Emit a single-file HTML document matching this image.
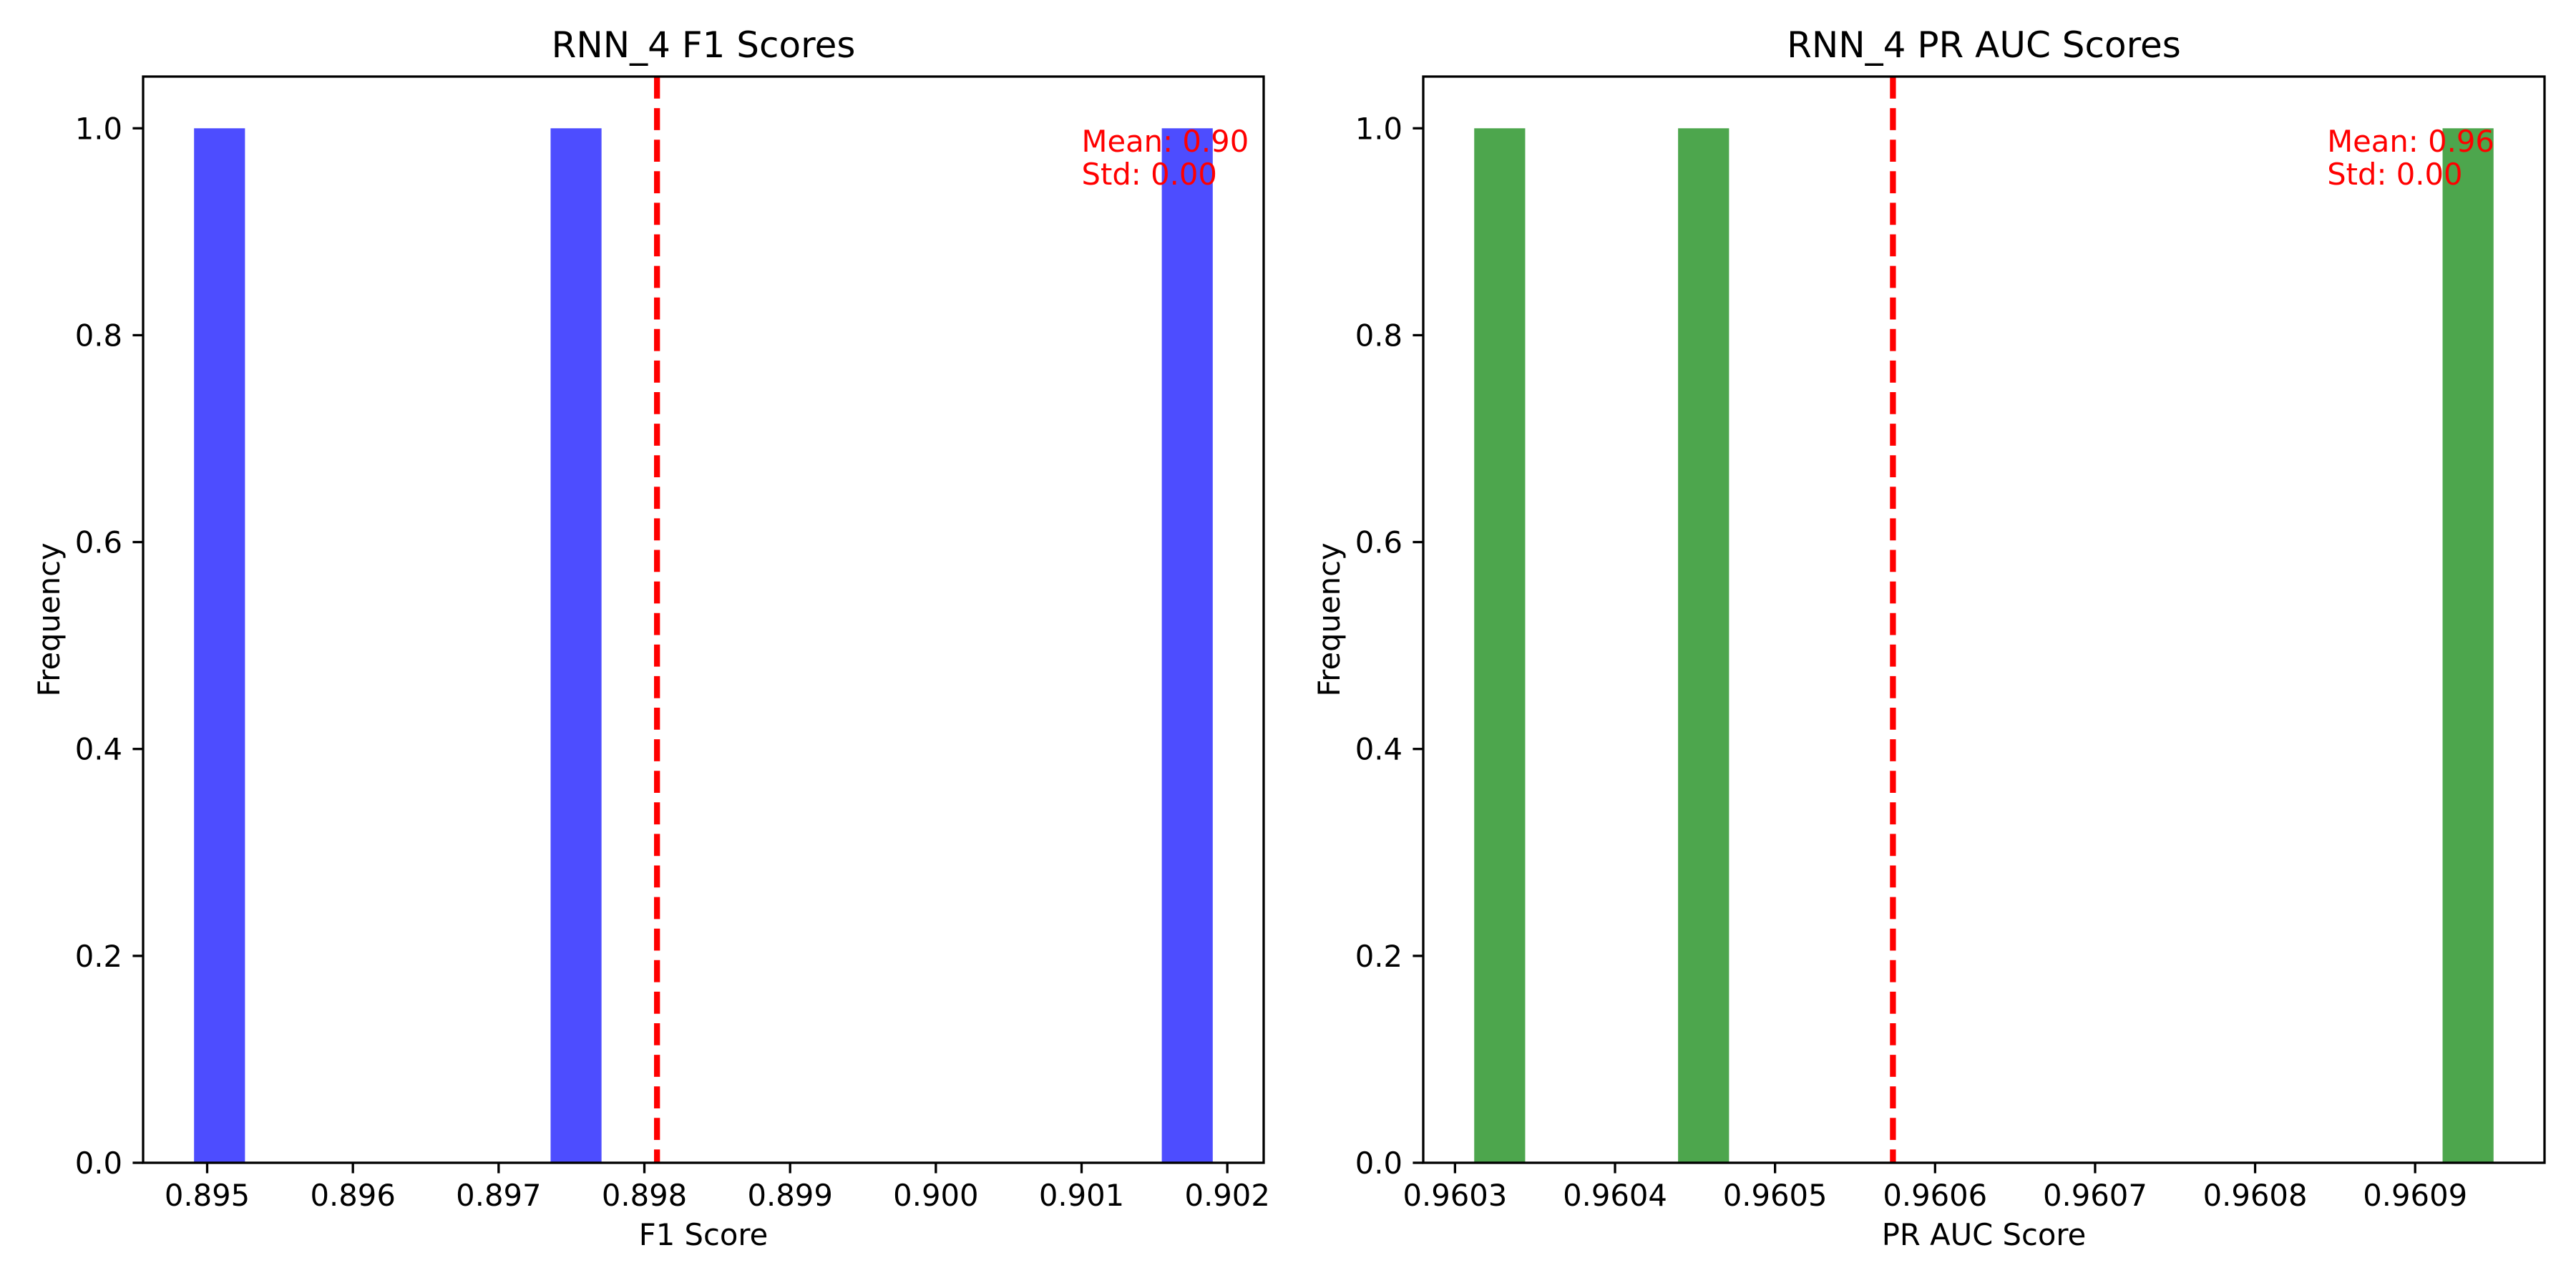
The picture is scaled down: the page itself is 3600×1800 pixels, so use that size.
<!DOCTYPE html>
<html><head><meta charset="utf-8"><style>
html,body{margin:0;padding:0;background:#fff;}
svg{display:block;font-family:"DejaVu Sans","Liberation Sans",sans-serif;}
</style></head><body>
<svg id="fig" width="3600" height="1800" viewBox="0 0 3600 1800" xmlns="http://www.w3.org/2000/svg">
<rect width="3600" height="1800" fill="#fff"/>
</svg>
<script>
const f1Values = [0.89491, 0.89745, 0.90190];
const f1Ticks = [0.895, 0.896, 0.897, 0.898, 0.899, 0.900, 0.901, 0.902];
const f1TickLabels = ["0.895","0.896","0.897","0.898","0.899","0.900","0.901","0.902"];
const prValues = [0.960312, 0.960460, 0.960949];
const prTicks = [0.9603, 0.9604, 0.9605, 0.9606, 0.9607, 0.9608, 0.9609];
const prTickLabels = ["0.9603","0.9604","0.9605","0.9606","0.9607","0.9608","0.9609"];
const yTicks = [0.0, 0.2, 0.4, 0.6, 0.8, 1.0];
const yTickLabels = ["0.0","0.2","0.4","0.6","0.8","1.0"];
const textX = [0.901, 0.960845];
const nBins = 20;

const NS = "http://www.w3.org/2000/svg";
const svg = document.getElementById('fig');
function mk(tag, attrs, parent, name, text) {
  const el = document.createElementNS(NS, tag);
  for (const k in attrs) el.setAttribute(k, attrs[k]);
  
  
  if (text !== undefined) el.textContent = text;
  parent.appendChild(el);
  return el;
}

function panel(cfg) {
  const g = mk('g', {}, svg, cfg.name);
  const L = cfg.left, R = cfg.right, T = 107, B = 1625;
  const vals = cfg.values;
  const mn = Math.min(...vals), mx = Math.max(...vals);
  const rng = mx - mn;
  const x0 = mn - 0.05 * rng, x1 = mx + 0.05 * rng;
  const xs = v => L + (v - x0) / (x1 - x0) * (R - L);
  const counts = new Array(nBins).fill(0);
  vals.forEach(v => { let i = Math.floor((v - mn) / rng * nBins); if (i >= nBins) i = nBins - 1; counts[i]++; });
  const ymax = Math.max(...counts) * 1.05;
  const ys = v => B - v / ymax * (B - T);
  counts.forEach((c, i) => {
    if (c === 0) return;
    const a = mn + i * rng / nBins, b = mn + (i + 1) * rng / nBins;
    const r = mk('rect', {x: xs(a), y: ys(c), width: xs(b) - xs(a), height: ys(0) - ys(c), fill: cfg.color}, g, 'histogram-bar');
  });
  const mean = vals.reduce((s, v) => s + v, 0) / vals.length;
  const sd = Math.sqrt(vals.reduce((s, v) => s + (v - mean) ** 2, 0) / vals.length);
  mk('line', {x1: xs(mean), x2: xs(mean), y1: T, y2: B, stroke: '#ff0000', 'stroke-width': 8.3, 'stroke-dasharray': '30.8 13.3'}, g, 'mean-line');
  // spines
  mk('rect', {x: L, y: T, width: R - L, height: B - T, fill: 'none', stroke: '#000', 'stroke-width': 3.3}, g, 'axes-frame');
  // x ticks
  cfg.ticks.forEach((t, i) => {
    const x = xs(t);
    mk('line', {x1: x, x2: x, y1: B, y2: B + 14.6, stroke: '#000', 'stroke-width': 3.3}, g, 'x-tick');
    mk('text', {x: x, y: 1685, 'font-size': 41.7, 'text-anchor': 'middle', fill: '#000'}, g, 'x-tick-label', cfg.tickLabels[i]);
  });
  yTicks.forEach((t, i) => {
    const y = ys(t);
    mk('line', {x1: L - 14.6, x2: L, y1: y, y2: y, stroke: '#000', 'stroke-width': 3.3}, g, 'y-tick');
    mk('text', {x: L - 29, y: y + 15, 'font-size': 41.7, 'text-anchor': 'end', fill: '#000'}, g, 'y-tick-label', yTickLabels[i]);
  });
  mk('text', {x: (L + R) / 2, y: 80, 'font-size': 50, 'text-anchor': 'middle', fill: '#000'}, g, 'chart-title', cfg.title);
  mk('text', {x: (L + R) / 2, y: 1740, 'font-size': 41.7, 'text-anchor': 'middle', fill: '#000'}, g, 'x-axis-title', cfg.xlabel);
  mk('text', {x: 0, y: 0, 'font-size': 41.7, 'text-anchor': 'middle', fill: '#000', transform: `translate(${L - 117},${(T + B) / 2}) rotate(-90)`}, g, 'y-axis-title', 'Frequency');
  const tx = xs(cfg.textX);
  mk('text', {x: tx, y: 212, 'font-size': 41.7, fill: '#ff0000'}, g, 'mean-annotation', 'Mean: ' + mean.toFixed(2));
  mk('text', {x: tx, y: 258, 'font-size': 41.7, fill: '#ff0000'}, g, 'std-annotation', 'Std: ' + sd.toFixed(2));
}

panel({name: 'f1-panel', left: 200, right: 1766, values: f1Values, ticks: f1Ticks, tickLabels: f1TickLabels, color: '#4d4dff', title: 'RNN_4 F1 Scores', xlabel: 'F1 Score', textX: textX[0]});
panel({name: 'pr-auc-panel', left: 1989, right: 3556, values: prValues, ticks: prTicks, tickLabels: prTickLabels, color: '#4da64d', title: 'RNN_4 PR AUC Scores', xlabel: 'PR AUC Score', textX: textX[1]});
</script>
</body></html>
